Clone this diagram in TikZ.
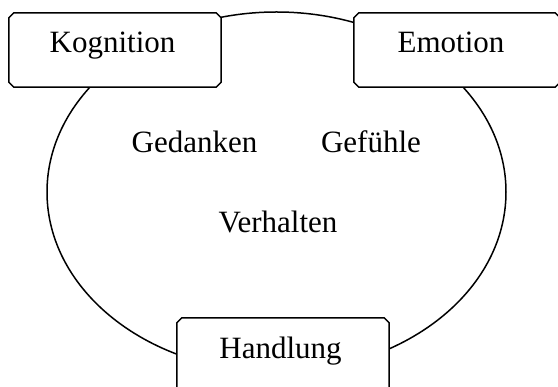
\documentclass[tikz,border=0pt]{standalone}
\usepackage{fontspec}
\setmainfont{Liberation Serif}
\usetikzlibrary{shapes.geometric}
\begin{document}
\begin{tikzpicture}[x=1pt,y=1pt,
  linew/.style={line width=1.5pt},
  boxarea/.style={draw=none, fill=white, rectangle, inner sep=0pt, minimum width=#1},
  chamf/.style={linew, draw=black, line join=miter},
  lbl/.style={anchor=base, inner sep=0pt, font=\fontsize{31}{36}\selectfont}]
\useasboundingbox (0,0) rectangle (558,387);
\clip (0,0) rectangle (558,387);
\def\cs{5}
\node[linew, draw=black, ellipse, minimum width=459pt, minimum height=360pt, inner sep=0pt] (cyc) at (276.5,195) {};
\node[boxarea=212pt, minimum height=74pt] (kogbox) at (115,337) {};
\node[boxarea=206pt, minimum height=74pt] (emobox) at (457,337) {};
\node[boxarea=212pt, minimum height=80pt] (hanbox) at (283,29) {};
\foreach \b in {kogbox,emobox,hanbox}{
  \draw[chamf] ([xshift=\cs pt]\b.north west) -- ([xshift=-\cs pt]\b.north east)
    -- ([yshift=-\cs pt]\b.north east) -- ([yshift=\cs pt]\b.south east)
    -- ([xshift=-\cs pt]\b.south east) -- ([xshift=\cs pt]\b.south west)
    -- ([yshift=\cs pt]\b.south west) -- ([yshift=-\cs pt]\b.north west) -- cycle;
}
\node[lbl] (kog) at (112.5,334) {Kognition};
\node[lbl] (emo) at (451,334) {Emotion};
\node[lbl] (han) at (280.5,28) {Handlung};
\node[lbl] (ged) at (194.5,234) {Gedanken};
\node[lbl] (gef) at (371,234) {Gefühle};
\node[lbl] (ver) at (278,154) {Verhalten};
\end{tikzpicture}
\end{document}
